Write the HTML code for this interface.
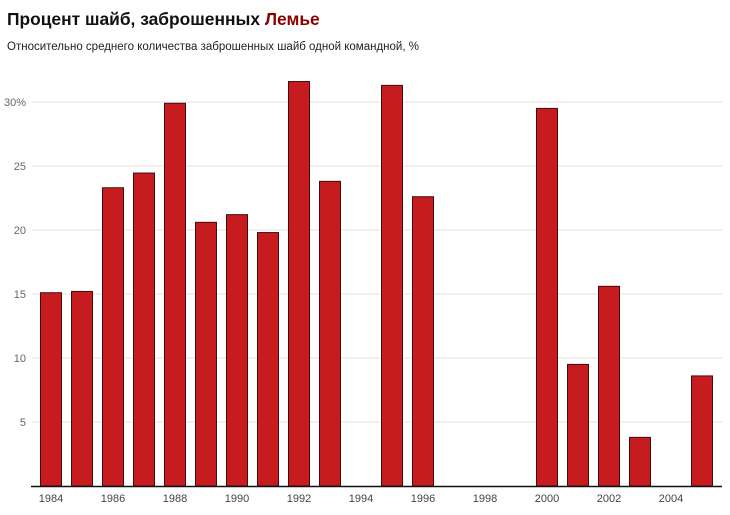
<!DOCTYPE html>
<html><head><meta charset="utf-8"><style>
body{margin:0;background:#fff;font-family:"Liberation Sans","Noto Sans CJK SC",sans-serif}
</style></head><body>
<svg width="730" height="510" xmlns="http://www.w3.org/2000/svg" font-family="Liberation Sans, sans-serif">
<text x="7" y="25" font-size="17.4" font-weight="bold" fill="#111">Процент шайб, заброшенных <tspan fill="#8b0000">Лемье</tspan></text>
<text x="7" y="50" font-size="11.5" fill="#222">Относительно среднего количества заброшенных шайб одной командной, %</text>
<g id="grid"></g><g id="bars"></g><g id="xt"></g>
<line x1="31" x2="722" y1="486.5" y2="486.5" stroke="#111" stroke-width="1.5"/>
</svg>
<script>
const years=[1984,1985,1986,1987,1988,1989,1990,1991,1992,1993,1994,1995,1996,1997,1998,1999,2000,2001,2002,2003,2004,2005];
const values=[15.1,15.2,23.3,24.45,29.9,20.6,21.2,19.8,31.6,23.8,0,31.3,22.6,0,0,0,29.5,9.5,15.6,3.8,0,8.6];
const yTicks=[5,10,15,20,25,30];
const yTickLabels=["5","10","15","20","25","30%"];
const xTickYears=[1984,1986,1988,1990,1992,1994,1996,1998,2000,2002,2004];
const ns="http://www.w3.org/2000/svg";
const y=v=>486-v*12.8;
const x=yr=>51+(yr-1984)*31;
function mk(t,a,p){const e=document.createElementNS(ns,t);for(const k in a)e.setAttribute(k,a[k]);p.appendChild(e);return e;}
const g=document.getElementById('grid');
yTicks.forEach((v,i)=>{
 const l=mk('line',{x1:32,x2:722,y1:y(v),y2:y(v),stroke:'#e2e2e2'},g);
 
 
 const t=mk('text',{x:26,y:y(v)+4,'text-anchor':'end','font-size':11,fill:'#666'},g);
 t.textContent=yTickLabels[i];
 
 
});
const b=document.getElementById('bars');
years.forEach((yr,i)=>{
 if(!values[i])return;
 const r=mk('rect',{x:x(yr)-10.5,y:y(values[i]),width:21,height:486-y(values[i]),fill:'#c71c1f',stroke:'#4a0a0a','stroke-width':1},b);
 
 
});
const xt=document.getElementById('xt');
xTickYears.forEach(yr=>{
 const t=mk('text',{x:x(yr),y:502,'text-anchor':'middle','font-size':11,fill:'#444'},xt);
 t.textContent=yr;
 
 
});
</script>
</body></html>
